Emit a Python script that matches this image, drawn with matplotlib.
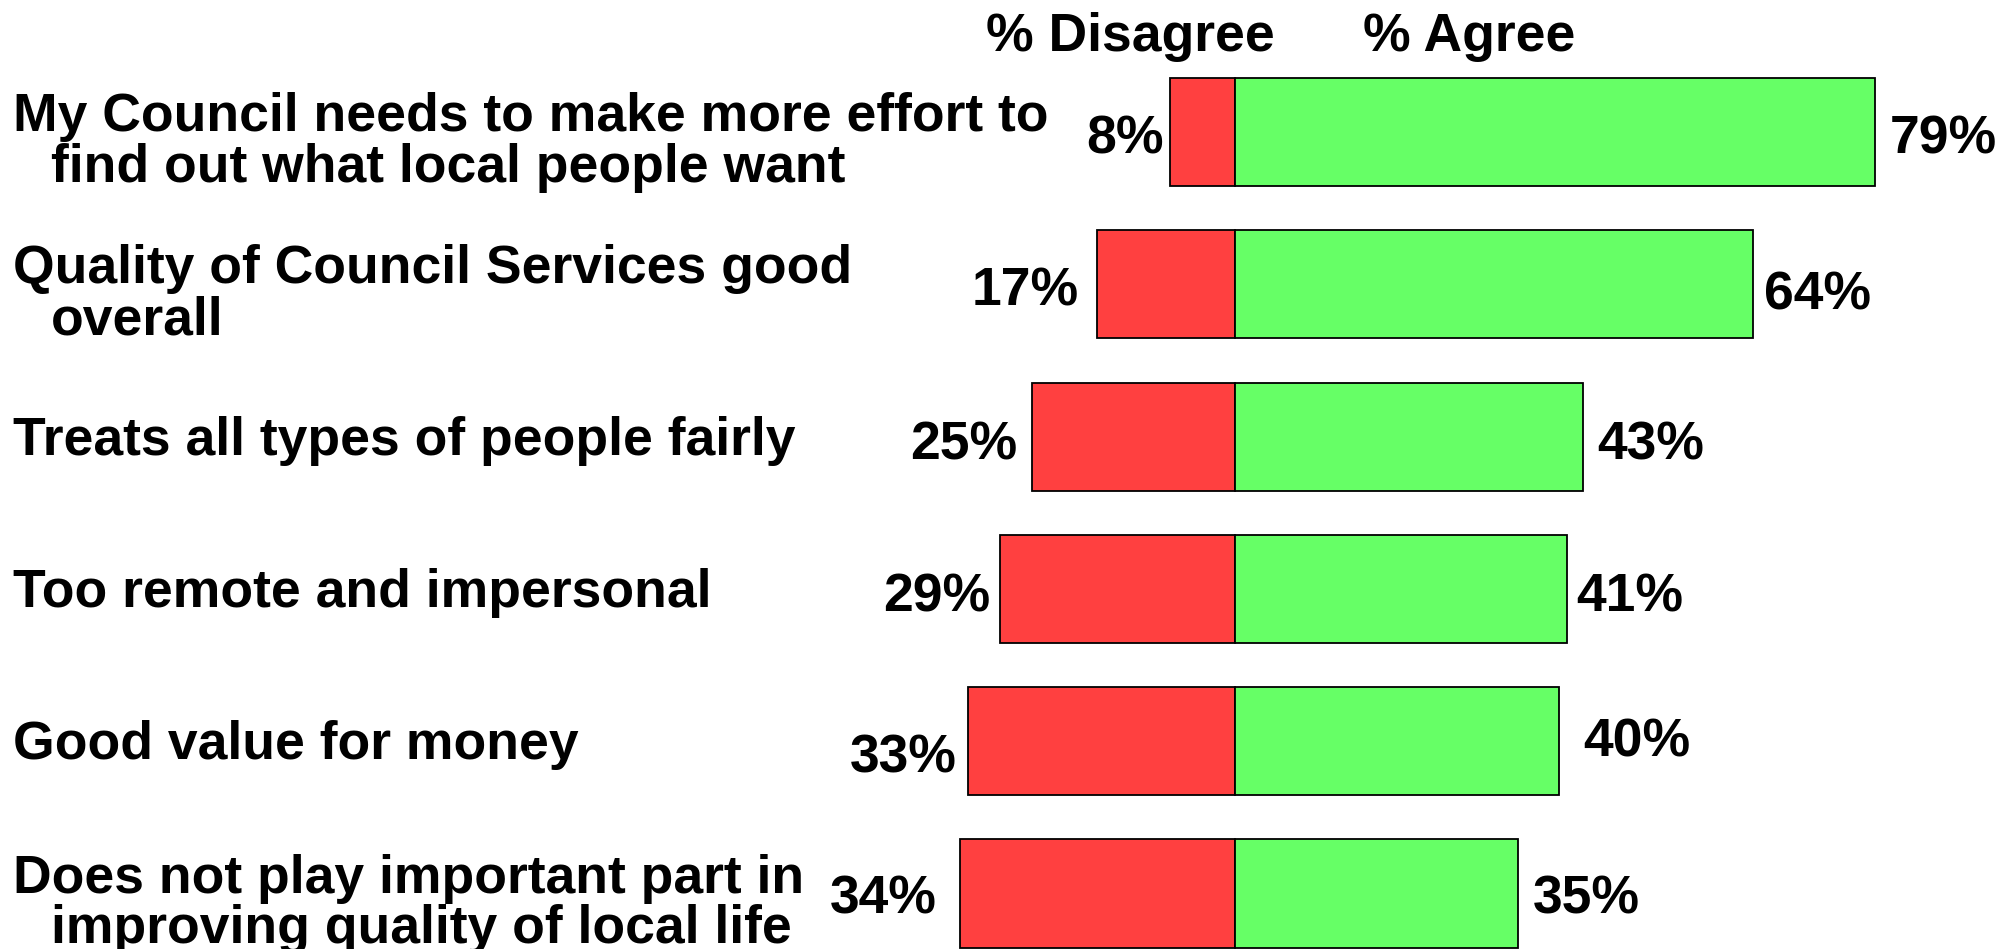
"""Diverging bar chart of agree / disagree shares for council attitude statements."""

import matplotlib
matplotlib.use("Agg")
import matplotlib.pyplot as plt
from matplotlib.transforms import offset_copy

plt.rcParams["font.family"] = ["Liberation Sans", "DejaVu Sans"]
plt.rcParams["font.weight"] = "bold"

STATEMENTS = [
    "My Council needs to make more effort to\nfind out what local people want",
    "Quality of Council Services good\noverall",
    "Treats all types of people fairly",
    "Too remote and impersonal",
    "Good value for money",
    "Does not play important part in\nimproving quality of local life",
]
DISAGREE = [8, 17, 25, 29, 33, 34]
AGREE = [79, 64, 43, 41, 40, 35]

RED = "#FF4040"
GREEN = "#66FF66"
FONT_SIZE = 38.5

# gaps (px) between bar ends and the value labels, and vertical nudges (px, +down)
DISAGREE_GAP = [6, 19, 15, 10, 11, 23]
AGREE_GAP = [15, 11, 14, 9, 24, 14]
DISAGREE_NUDGE = [2, 2, 3, 3, 12, 0]
AGREE_NUDGE = [2, 6, 3, 3, -4, 0]

# geometry in figure pixels
W, H, DPI = 1998, 949, 100
ZERO_PX = 1235
PX_PER_PCT = 8.10
ROW0_PX = 132
ROW_STEP = 152.3
BAR_H = 0.71


def main():
    fig = plt.figure(figsize=(W / DPI, H / DPI), dpi=DPI)
    ax = fig.add_axes([0, 0, 1, 1])
    ax.set_xlim(-ZERO_PX / PX_PER_PCT, (W - ZERO_PX) / PX_PER_PCT)
    ax.set_ylim((H - ROW0_PX) / ROW_STEP, -ROW0_PX / ROW_STEP)
    ax.axis("off")

    rows = list(range(len(STATEMENTS)))
    ax.barh(rows, [-d for d in DISAGREE], height=BAR_H, color=RED,
            edgecolor="black", linewidth=1.3)
    ax.barh(rows, AGREE, height=BAR_H, color=GREEN,
            edgecolor="black", linewidth=1.3)

    px = 72 / DPI  # points per pixel
    left_x = ax.get_xlim()[0]

    for i, text in enumerate(STATEMENTS):
        lines = text.split("\n")
        if len(lines) == 1:
            offsets = [(13, 18)]
        else:
            offsets = [(13, -1), (51, 50)]
        for line, (dx, dy) in zip(lines, offsets):
            tr = offset_copy(ax.transData, fig=fig, x=dx * px, y=-dy * px, units="points")
            ax.text(left_x, i, line, transform=tr, ha="left", va="baseline",
                    fontsize=FONT_SIZE, fontweight="bold")

        tr = offset_copy(ax.transData, fig=fig, x=-DISAGREE_GAP[i] * px,
                         y=-DISAGREE_NUDGE[i] * px, units="points")
        ax.text(-DISAGREE[i], i, f"{DISAGREE[i]}%", transform=tr, ha="right",
                va="center_baseline", fontsize=FONT_SIZE, fontweight="bold")
        tr = offset_copy(ax.transData, fig=fig, x=AGREE_GAP[i] * px,
                         y=-AGREE_NUDGE[i] * px, units="points")
        ax.text(AGREE[i], i, f"{AGREE[i]}%", transform=tr, ha="left",
                va="center_baseline", fontsize=FONT_SIZE, fontweight="bold")

    header_y = (32 - ROW0_PX) / ROW_STEP
    ax.text((1130 - ZERO_PX) / PX_PER_PCT, header_y, "% Disagree", ha="center",
            va="center_baseline", fontsize=FONT_SIZE, fontweight="bold")
    ax.text((1469 - ZERO_PX) / PX_PER_PCT, header_y, "% Agree", ha="center",
            va="center_baseline", fontsize=FONT_SIZE, fontweight="bold")

    fig.savefig("out.png", dpi=DPI, facecolor="white")
    plt.close(fig)


if __name__ == "__main__":
    main()
